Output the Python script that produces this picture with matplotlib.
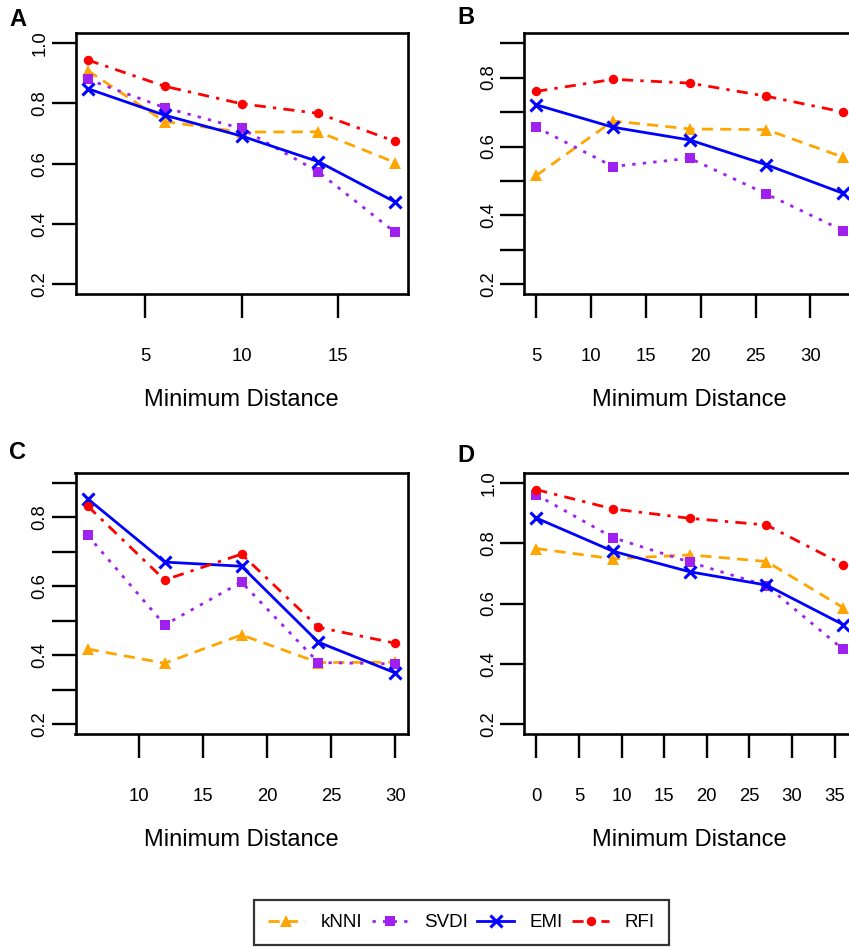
import matplotlib
matplotlib.use('Agg')
import matplotlib.pyplot as plt
from matplotlib.lines import Line2D

plt.rcParams['font.family'] = ['Liberation Sans', 'DejaVu Sans']

# ---------------- data ----------------
methods = ['kNNI', 'SVDI', 'EMI', 'RFI']

x_A = [2, 6, 10, 14, 18]
knni_A = [0.909, 0.740, 0.705, 0.706, 0.604]
svdi_A = [0.880, 0.786, 0.717, 0.573, 0.372]
emi_A = [0.849, 0.761, 0.692, 0.607, 0.473]
rfi_A = [0.944, 0.857, 0.799, 0.767, 0.674]

x_B = [5, 12, 19, 26, 33]
knni_B = [0.516, 0.674, 0.651, 0.649, 0.569]
svdi_B = [0.656, 0.542, 0.566, 0.462, 0.356]
emi_B = [0.721, 0.656, 0.619, 0.547, 0.464]
rfi_B = [0.760, 0.795, 0.784, 0.746, 0.700]

x_C = [6, 12, 18, 24, 30]
knni_C = [0.418, 0.377, 0.459, 0.379, 0.380]
svdi_C = [0.747, 0.488, 0.612, 0.379, 0.375]
emi_C = [0.853, 0.670, 0.658, 0.438, 0.349]
rfi_C = [0.832, 0.618, 0.693, 0.481, 0.435]

x_D = [0, 9, 18, 27, 36]
knni_D = [0.782, 0.748, 0.761, 0.739, 0.586]
svdi_D = [0.960, 0.818, 0.737, 0.659, 0.448]
emi_D = [0.883, 0.773, 0.705, 0.661, 0.530]
rfi_D = [0.977, 0.913, 0.882, 0.860, 0.729]

xticks_A = [5, 10, 15]
xticks_B = [5, 10, 15, 20, 25, 30]
xticks_C = [10, 15, 20, 25, 30]
xticks_D = [0, 5, 10, 15, 20, 25, 30, 35]

yticks_AD = [0.2, 0.4, 0.6, 0.8, 1.0]
ylabels_AD = ['0.2', '0.4', '0.6', '0.8', '1.0']
yticks_BC = [0.2, 0.3, 0.4, 0.5, 0.6, 0.7, 0.8, 0.9]
ylabels_BC = ['0.2', '', '0.4', '', '0.6', '', '0.8', '']

# ---------------- styles ----------------
styles = {
    'kNNI': dict(color='#FFA500', dashes=(4.0, 2.6), marker='^', ms=8.5, mew=0),
    'SVDI': dict(color='#A020F0', dashes=(1.2, 2.6), marker='s', ms=6.5, mew=0),
    'EMI':  dict(color='#0000FF', dashes=None, marker='x', ms=8.0, mew=2.2),
    'RFI':  dict(color='#FF0000', dashes=(4.0, 2.6, 1.2, 2.6), marker='o', ms=6.8, mew=0),
}
LW = 2.0

W, H = 849, 947
fig = plt.figure(figsize=(W / 100, H / 100), dpi=100)


def add_axes_px(l, r, t, b):
    return fig.add_axes([l / W, 1 - b / H, (r - l) / W, (b - t) / H])


def draw_line(ax, x, y, name):
    s = styles[name]
    ln, = ax.plot(x, y, color=s['color'], lw=LW, marker=s['marker'],
                  ms=s['ms'], mew=s['mew'], mec=s['color'], mfc=s['color'],
                  clip_on=False)
    if s['dashes'] is not None:
        ln.set_dashes(s['dashes'])
    return ln


panels = [
    ('A', (75.5, 407.5, 33.5, 294), x_A, [knni_A, svdi_A, emi_A, rfi_A],
     xticks_A, (0.2, 1.0), yticks_AD, ylabels_AD, (18, 20)),
    ('B', (524, 855.5, 33.5, 294), x_B, [knni_B, svdi_B, emi_B, rfi_B],
     xticks_B, (0.2, 0.9), yticks_BC, ylabels_BC, (466, 18)),
    ('C', (75.5, 407.5, 473, 734), x_C, [knni_C, svdi_C, emi_C, rfi_C],
     xticks_C, (0.2, 0.9), yticks_BC, ylabels_BC, (18, 452)),
    ('D', (524, 855.5, 473, 734), x_D, [knni_D, svdi_D, emi_D, rfi_D],
     xticks_D, (0.2, 1.0), yticks_AD, ylabels_AD, (466, 455)),
]

for letter, box, xs, series, xt, ylim, yt, yl, lpos in panels:
    ax = add_axes_px(*box)
    for name, ys in zip(methods, series):
        draw_line(ax, xs, ys, name)
    ax.set_xticks(xt)
    ax.set_xticklabels([str(v) for v in xt])
    ax.set_yticks(yt)
    ax.set_yticklabels(yl)
    xr = max(xs) - min(xs)
    ax.set_xlim(min(xs) - 0.04 * xr, max(xs) + 0.04 * xr)
    yr = ylim[1] - ylim[0]
    ax.set_ylim(ylim[0] - 0.04 * yr, ylim[1] + 0.04 * yr)
    for sp in ax.spines.values():
        sp.set_linewidth(1.9)
    ax.tick_params(axis='both', direction='out', length=17.3, width=1.7,
                   labelsize=13.3, colors='black')
    ax.tick_params(axis='x', pad=21.5)
    ax.tick_params(axis='y', pad=2.0, labelrotation=90)
    for lab in ax.get_yticklabels():
        lab.set_va('center')
    ax.annotate('Minimum Distance', xy=(0.5, 0), xycoords='axes fraction',
                xytext=(0, -106 * 0.72), textcoords='offset points',
                ha='center', va='center', fontsize=17)
    fig.text(lpos[0] / W, 1 - lpos[1] / H, letter, fontsize=17,
             fontweight='bold', ha='center', va='center')

# ---------------- legend ----------------
handles = []
for name in methods:
    s = styles[name]
    h = Line2D([0], [0], color=s['color'], lw=LW, marker=s['marker'],
               ms=s['ms'], mew=s['mew'], mec=s['color'], mfc=s['color'])
    if s['dashes'] is not None:
        h.set_dashes(s['dashes'])
    handles.append(h)

leg = fig.legend(handles, methods, loc='center',
                 bbox_to_anchor=(461.5 / W, 1 - 922.5 / H), ncol=4,
                 fontsize=13.5, frameon=True, fancybox=False,
                 handlelength=1.95, handletextpad=0.85, columnspacing=0.5,
                 borderpad=0.75, numpoints=1, borderaxespad=0)
leg.get_frame().set_edgecolor('black')
leg.get_frame().set_linewidth(1.6)

fig.savefig('out.png', dpi=100)
